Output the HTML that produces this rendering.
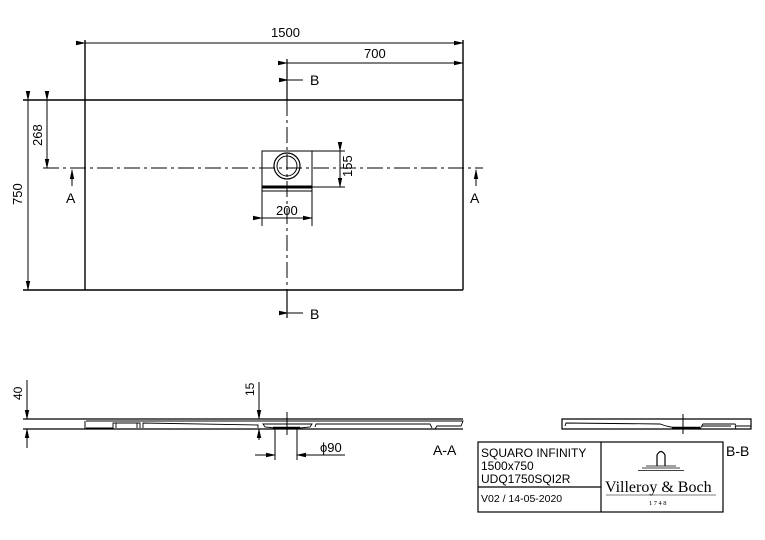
<!DOCTYPE html>
<html><head><meta charset="utf-8"><style>
html,body{margin:0;padding:0;background:#fff;}
svg{display:block;}
text{font-family:"Liberation Sans",sans-serif;fill:#000;}
</style></head><body>
<svg width="765" height="540" viewBox="0 0 765 540" xmlns="http://www.w3.org/2000/svg">
<defs>
<marker id="ar" markerWidth="10" markerHeight="6" refX="9" refY="3" orient="auto" markerUnits="userSpaceOnUse"><path d="M0,0.8 L10,3 L0,5.2Z" fill="#000"/></marker>
</defs>
<g stroke="#000" fill="none" stroke-width="1.4">
<line x1="23" y1="100" x2="463" y2="100"/>
<line x1="23" y1="290" x2="463" y2="290"/>
<line x1="85" y1="40" x2="85" y2="290"/>
<line x1="463" y1="40" x2="463" y2="290"/>
<line x1="85" y1="43" x2="463" y2="43" stroke-width="1" marker-start="url(#ar)" marker-end="url(#ar)"/>
<line x1="287" y1="63" x2="463" y2="63" stroke-width="1" marker-start="url(#ar)" marker-end="url(#ar)"/>
<line x1="287" y1="59" x2="287" y2="100" stroke-width="1.2"/>
<line x1="287" y1="290" x2="287" y2="318" stroke-width="1.2"/>
<line x1="288" y1="80" x2="303" y2="80" stroke-width="1" marker-start="url(#ar)"/>
<line x1="288" y1="313" x2="303" y2="313" stroke-width="1" marker-start="url(#ar)"/>
<line x1="28" y1="100" x2="28" y2="290" stroke-width="1" marker-start="url(#ar)" marker-end="url(#ar)"/>
<line x1="47" y1="100" x2="47" y2="168" stroke-width="1" marker-start="url(#ar)" marker-end="url(#ar)"/>
<line x1="43" y1="168" x2="483" y2="168" stroke-width="1" stroke-dasharray="16,4,3,4"/>
<line x1="287" y1="100" x2="287" y2="290" stroke-width="1" stroke-dasharray="16,4,3,4"/>
<line x1="72" y1="186" x2="72" y2="170" stroke-width="1" marker-end="url(#ar)"/>
<line x1="476" y1="186" x2="476" y2="170" stroke-width="1" marker-end="url(#ar)"/>
<rect x="262" y="151" width="50" height="40" stroke-width="1"/>
<circle cx="287" cy="166" r="13" stroke-width="1.2"/>
<circle cx="287" cy="166" r="10" stroke-width="1"/>
<line x1="262" y1="187" x2="312" y2="187" stroke-width="3"/>
<line x1="262" y1="191" x2="262" y2="226" stroke-width="1"/>
<line x1="312" y1="191" x2="312" y2="226" stroke-width="1"/>
<line x1="262" y1="218" x2="312" y2="218" stroke-width="1" marker-start="url(#ar)" marker-end="url(#ar)"/>
<line x1="312" y1="151" x2="345" y2="151" stroke-width="1"/>
<line x1="312" y1="187" x2="345" y2="187" stroke-width="1"/>
<line x1="340" y1="151" x2="340" y2="187" stroke-width="1" marker-start="url(#ar)" marker-end="url(#ar)"/>
<line x1="23" y1="419" x2="463" y2="419" stroke-width="1.2"/>
<line x1="23" y1="429" x2="463" y2="429" stroke-width="1.2"/>
<line x1="27" y1="380" x2="27" y2="419" stroke-width="1" marker-end="url(#ar)"/>
<line x1="27" y1="448" x2="27" y2="429" stroke-width="1" marker-end="url(#ar)"/>
<line x1="85" y1="421" x2="85" y2="429" stroke-width="1"/>
<path d="M86,421 L463,421 L461,426 L437,426 L435,429 M86,428 L113,428 L113,423 L140,423 L140,428 M116,428 L116,423 M137,428 L137,423 M143,428 L143,423 L258,425 L258,428" stroke-width="0.9"/>
<path d="M263,424 L312,424 L310,427 L300,428 L275,428 L265,427Z" stroke-width="0.9"/>
<path d="M315,427 L316,424 L430,424 L432,428" stroke-width="0.9"/>
<line x1="273" y1="428" x2="300" y2="428" stroke-width="2.5"/>
<line x1="259" y1="382" x2="259" y2="419" stroke-width="1" marker-end="url(#ar)"/>
<line x1="259" y1="440" x2="259" y2="429" stroke-width="1" marker-end="url(#ar)"/>
<line x1="287" y1="412" x2="287" y2="435" stroke-width="1"/>
<line x1="275" y1="428" x2="275" y2="460" stroke-width="1"/>
<line x1="297" y1="428" x2="297" y2="460" stroke-width="1"/>
<line x1="255" y1="455" x2="275" y2="455" stroke-width="1" marker-end="url(#ar)"/>
<line x1="345" y1="455" x2="297" y2="455" stroke-width="1" marker-end="url(#ar)"/>
<path d="M562,419 L751,419 L751,429 L562,429Z" stroke-width="1.2"/>
<path d="M565,426 L566,423 L660,424 L666,426 L680,429 M700,429 L703,424 L735,424 L736,426 L751,426 M735,426 L736,429 M702,426 L731,426" stroke-width="0.9"/>
<line x1="672" y1="428" x2="700" y2="428" stroke-width="2.5"/>
<line x1="683" y1="414" x2="683" y2="434" stroke-width="1"/>
<rect x="478" y="442" width="245" height="70" stroke-width="1.2"/>
<line x1="601" y1="442" x2="601" y2="512" stroke-width="1.2"/>
<line x1="478" y1="487" x2="601" y2="487" stroke-width="1.2"/>
<path d="M657,466 L657,455 Q661,448 665,455 L665,466" stroke-width="1.2"/>
<line x1="646" y1="466" x2="676" y2="466" stroke-width="0.7"/>
<line x1="642" y1="468" x2="680" y2="468" stroke-width="0.7"/>
<line x1="638" y1="470.5" x2="684" y2="470.5" stroke-width="0.7"/>
<line x1="606" y1="495" x2="716" y2="495" stroke-width="0.6"/>
</g>
<g font-size="12">
<text x="271" y="37" font-size="13">1500</text>
<text x="364" y="58" font-size="13">700</text>
<text x="310" y="85" font-size="14">B</text>
<text x="310" y="319" font-size="14">B</text>
<text x="66" y="203" font-size="14">A</text>
<text x="470" y="203" font-size="14">A</text>
<text x="276" y="215" font-size="13">200</text>
<text transform="translate(22,205) rotate(-90)" font-size="13">750</text>
<text transform="translate(42,146) rotate(-90)" font-size="13">268</text>
<text transform="translate(352,177) rotate(-90)" font-size="13">155</text>
<text transform="translate(22,400) rotate(-90)" font-size="12">40</text>
<text transform="translate(254,396) rotate(-90)" font-size="12">15</text>
<text x="320" y="452" font-size="13">ϕ90</text>
<text x="433" y="455" font-size="14">A-A</text>
<text x="726" y="456" font-size="14">B-B</text>
<text x="481" y="457" font-size="12">SQUARO INFINITY</text>
<text x="481" y="470" font-size="12">1500x750</text>
<text x="481" y="483" font-size="12">UDQ1750SQI2R</text>
<text x="481" y="502" font-size="10.5">V02 / 14-05-2020</text>
<text x="605" y="492" font-size="16" style="font-family:'Liberation Serif',serif">Villeroy &amp; Boch</text>
<text x="649" y="505" font-size="6.5" style="font-family:'Liberation Serif',serif" letter-spacing="1.5">1748</text>
</g>
</svg>
</body></html>
